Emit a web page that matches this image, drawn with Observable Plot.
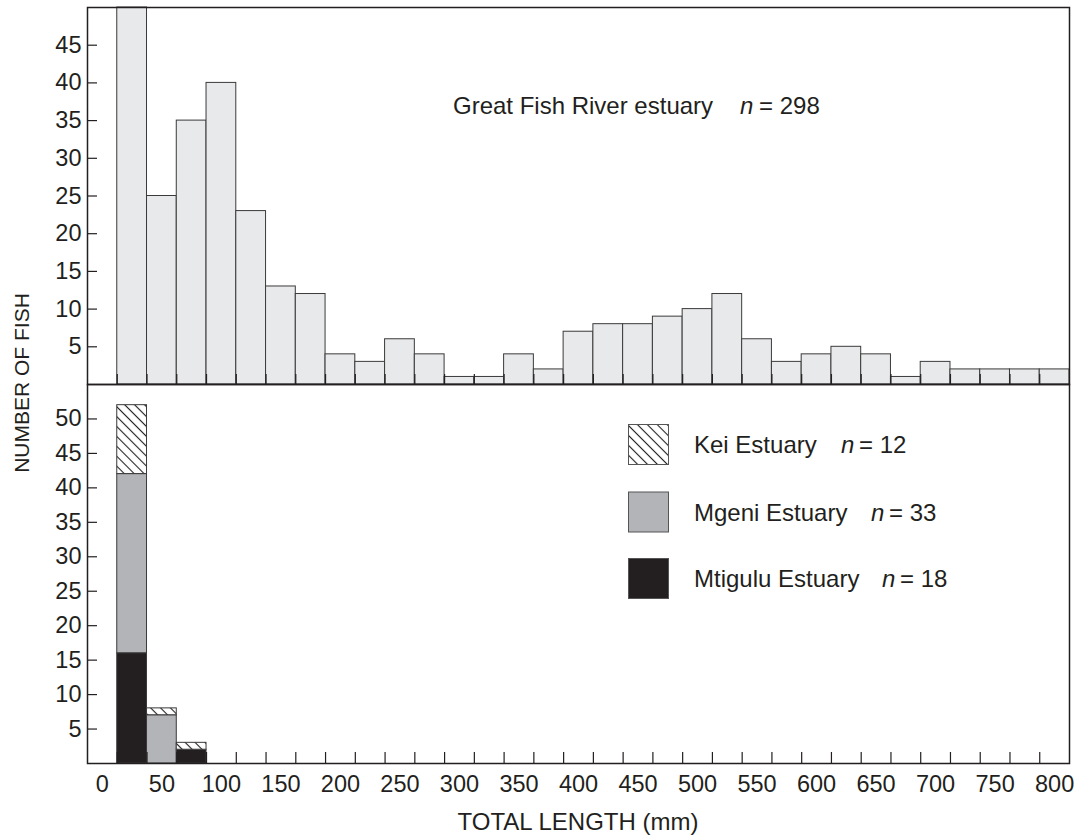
<!DOCTYPE html>
<html>
<head>
<meta charset="utf-8">
<script src="https://cdn.jsdelivr.net/npm/d3@7"></script>
<script src="https://cdn.jsdelivr.net/npm/@observablehq/plot@0.6"></script>
<style>
  body { margin: 0; background: #fff; }
  #chart { position: relative; width: 1079px; height: 836px; font-family: "Liberation Sans", Arial, sans-serif; }
  #chart svg { position: absolute; left: 0; overflow: visible; background: transparent; max-width: none; }
</style>
</head>
<body>
<div id="chart"></div>
<script>
// ---------- data ----------
const lengthBins = [25, 50, 75, 100, 125, 150, 175, 200, 225, 250, 275, 300, 325, 350, 375, 400,
                    425, 450, 475, 500, 525, 550, 575, 600, 625, 650, 675, 700, 725, 750, 775, 800];
const greatFishCounts = [50, 25, 35, 40, 23, 13, 12, 4, 3, 6, 4, 1, 1, 4, 2, 7,
                         8, 8, 9, 10, 12, 6, 3, 4, 5, 4, 1, 3, 2, 2, 2, 2];
const lowerBins = [25, 50, 75];
const mtiguluCounts = [16, 0, 2];
const mgeniCounts = [26, 7, 0];
const keiCounts = [10, 1, 1];
const estuaries = ["Mtigulu Estuary", "Mgeni Estuary", "Kei Estuary"];
const estuaryN = [18, 33, 12];
const xTicks = [0, 50, 100, 150, 200, 250, 300, 350, 400, 450, 500, 550, 600, 650, 700, 750, 800];
const topYTicks = [5, 10, 15, 20, 25, 30, 35, 40, 45];
const bottomYTicks = [5, 10, 15, 20, 25, 30, 35, 40, 45, 50];
const binWidth = 25;
const binEdges = lengthBins.map(b => b - binWidth / 2);

// ---------- layout ----------
const W = 1079, ML = 87, MR = 10;
const frameW = W - ML - MR;
const ink = "#231f20";
const FONT = "Liberation Sans, Arial, sans-serif";
const FS = 24;
const TFS = 23.5;

const topRows = lengthBins.map((b, i) => ({length: b, count: greatFishCounts[i]}));
const lowerRows = [];
lowerBins.forEach((b, i) => {
  [mtiguluCounts[i], mgeniCounts[i], keiCounts[i]].forEach((c, j) => {
    if (c > 0) lowerRows.push({length: b, estuary: estuaries[j], count: c});
  });
});

const xDomain = [-binWidth / 2, 800 + binWidth / 2];

// ---------- top panel ----------
const topH = 385, topMT = 7, topMB = 1;
const topFrameH = topH - topMT - topMB;
const topPlot = Plot.plot({
  width: W, height: topH, marginTop: topMT, marginBottom: topMB, marginLeft: ML, marginRight: MR,
  style: {fontFamily: FONT, fontSize: TFS + "px", color: ink, background: "transparent", overflow: "visible"},
  x: {domain: xDomain, axis: null},
  y: {domain: [0, 50]},
  marks: [
    Plot.rectY(topRows, {x1: d => d.length - binWidth / 2, x2: d => d.length + binWidth / 2, y: "count",
      fill: "#e8e9eb", stroke: "#3a3a3a", strokeWidth: 1}),
    Plot.ruleX(binEdges, {insetTop: topFrameH - 10, stroke: ink, strokeWidth: 1.2}),
    Plot.ruleY(topYTicks, {insetRight: frameW - 10, stroke: ink, strokeWidth: 1.2}),
    Plot.axisY(topYTicks, {tickSize: 0, tickPadding: 6, fontSize: TFS, label: null}),
    Plot.frame({stroke: ink, strokeWidth: 1.5})
  ]
});
topPlot.style.top = "0px";

// ---------- bottom panel ----------
const botH = 836 - 384, botMT = 0, botMB = 73;
const botFrameH = botH - botMT - botMB;
const bottomPlot = Plot.plot({
  width: W, height: botH, marginTop: botMT, marginBottom: botMB, marginLeft: ML, marginRight: MR,
  style: {fontFamily: FONT, fontSize: TFS + "px", color: ink, background: "transparent", overflow: "visible"},
  x: {domain: xDomain},
  y: {domain: [0, 55]},
  color: {domain: estuaries, range: [ink, "#b3b4b7", "url(#keiHatch)"]},
  marks: [
    Plot.rectY(lowerRows, {x1: d => d.length - binWidth / 2, x2: d => d.length + binWidth / 2, y: "count",
      fill: "estuary", order: estuaries, stroke: "#3a3a3a", strokeWidth: 1}),
    Plot.ruleX(binEdges, {insetTop: botFrameH - 11, stroke: ink, strokeWidth: 1.2}),
    Plot.ruleY(bottomYTicks, {insetRight: frameW - 10, stroke: ink, strokeWidth: 1.2}),
    Plot.axisY(bottomYTicks, {tickSize: 0, tickPadding: 6, fontSize: TFS, label: null}),
    Plot.axisX(xTicks, {tickSize: 0, tickPadding: 12, fontSize: TFS, label: null}),
    Plot.frame({stroke: ink, strokeWidth: 1.5})
  ]
});
bottomPlot.style.top = "384px";

// hatch pattern
const defs = d3.select(bottomPlot).insert("defs", ":first-child");
const pat = defs.append("pattern").attr("id", "keiHatch").attr("patternUnits", "userSpaceOnUse")
  .attr("width", 7).attr("height", 7).attr("patternTransform", "rotate(45)");
pat.append("rect").attr("width", 7).attr("height", 7).attr("fill", "#fff");
pat.append("line").attr("x1", 0).attr("x2", 7).attr("y1", 3.5).attr("y2", 3.5)
  .attr("stroke", ink).attr("stroke-width", 1.1);

const chart = document.getElementById("chart");
chart.appendChild(topPlot);
chart.appendChild(bottomPlot);

// ---------- overlay: titles, annotation, legend ----------
const ov = d3.create("svg").attr("width", W).attr("height", 836)
  .style("top", "0px").style("pointer-events", "none")
  .attr("font-family", FONT).attr("font-size", FS).attr("fill", ink);

// annotation
ov.append("text").attr("x", 453).attr("y", 105).attr("dy", "0.36em").text("Great Fish River estuary");
ov.append("text").attr("x", 740).attr("y", 105).attr("dy", "0.36em").attr("font-style", "italic").text("n");
ov.append("text").attr("x", 759).attr("y", 105).attr("dy", "0.36em").text("= 298");

// legend (top to bottom: Kei, Mgeni, Mtigulu)
const legendItems = [
  {name: estuaries[2], n: estuaryN[2], fill: "url(#keiHatch)", y: 444.5, nx: 841},
  {name: estuaries[1], n: estuaryN[1], fill: "#b3b4b7", y: 512, nx: 871},
  {name: estuaries[0], n: estuaryN[0], fill: ink, y: 578.5, nx: 882}
];
legendItems.forEach(it => {
  ov.append("rect").attr("x", 628.5).attr("y", it.y - 20).attr("width", 40).attr("height", 40)
    .attr("fill", it.fill).attr("stroke", "#555").attr("stroke-width", 1);
  ov.append("text").attr("x", 694).attr("y", it.y).attr("dy", "0.36em").text(it.name);
  ov.append("text").attr("x", it.nx).attr("y", it.y).attr("dy", "0.36em").attr("font-style", "italic").text("n");
  ov.append("text").attr("x", it.nx + 18).attr("y", it.y).attr("dy", "0.36em").text("= " + it.n);
});

// axis titles
ov.append("text").attr("transform", "translate(21,383) rotate(-90)").attr("text-anchor", "middle")
  .attr("dy", "0.36em").attr("font-size", 21).text("NUMBER OF FISH");
ov.append("text").attr("x", ML + frameW / 2).attr("y", 821).attr("text-anchor", "middle")
  .attr("dy", "0.36em").text("TOTAL LENGTH (mm)");

chart.appendChild(ov.node());
</script>
</body>
</html>
